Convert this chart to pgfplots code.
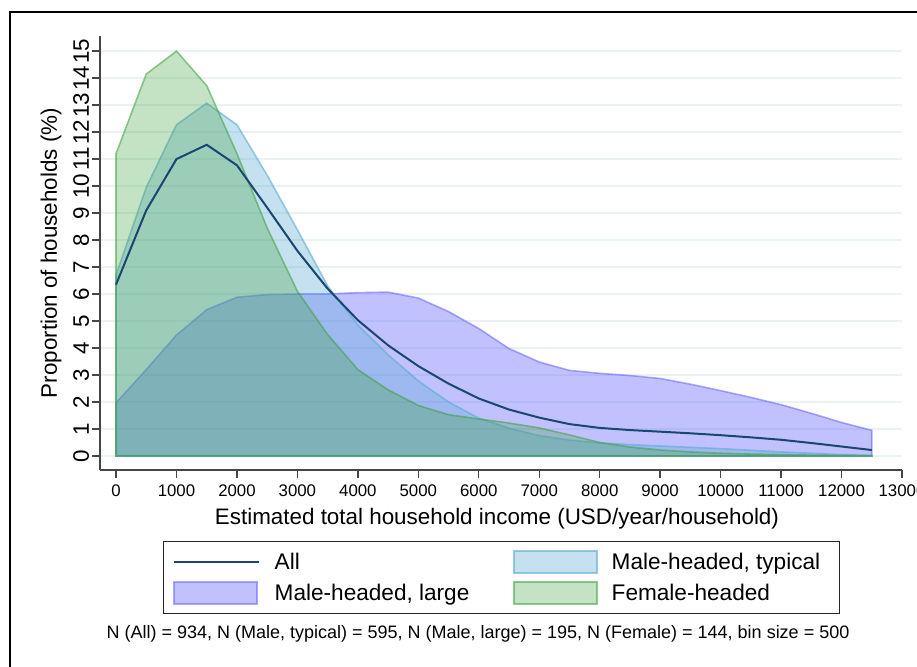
\documentclass[border=0pt]{standalone}
\usepackage{fontspec}
\setmainfont{Liberation Sans}
\usepackage{pgfplots}
\usepackage{pgfplotstable}
\pgfplotsset{compat=1.18}

\definecolor{allc}{RGB}{26,71,111}
\definecolor{femc}{RGB}{60,160,60}
\definecolor{typc}{RGB}{90,170,210}
\definecolor{largec}{RGB}{100,100,255}
\definecolor{gridc}{RGB}{234,242,243}
\definecolor{axc}{RGB}{70,70,70}

\pgfplotstableread{
x y
0 6.35
500 9.1
1000 11.0
1500 11.53
2000 10.77
2500 9.2
3000 7.6
3500 6.2
4000 5.03
4500 4.1
5000 3.33
5500 2.68
6000 2.13
6500 1.72
7000 1.42
7500 1.18
8000 1.04
8500 0.96
9000 0.9
9500 0.84
10000 0.77
10500 0.69
11000 0.6
11500 0.48
12000 0.35
12500 0.22
}\alltab

\pgfplotstableread{
x y
0 0
0 6.7
500 9.95
1000 12.27
1500 13.07
2000 12.27
2500 10.4
3000 8.38
3500 6.3
4000 4.85
4500 3.75
5000 2.78
5500 2.0
6000 1.4
6500 1.03
7000 0.75
7500 0.59
8000 0.48
8500 0.42
9000 0.37
9500 0.32
10000 0.27
10500 0.21
11000 0.15
11500 0.1
12000 0.05
12500 0.02
12500 0
}\typtab

\pgfplotstableread{
x y
0 0
0 1.97
500 3.2
1000 4.48
1500 5.42
2000 5.88
2500 5.98
3000 6.0
3500 6.0
4000 6.05
4500 6.07
5000 5.85
5500 5.35
6000 4.72
6500 3.98
7000 3.48
7500 3.17
8000 3.06
8500 2.98
9000 2.87
9500 2.66
10000 2.42
10500 2.17
11000 1.9
11500 1.58
12000 1.24
12500 0.95
12500 0
}\largetab

\pgfplotstableread{
x y
0 0
0 11.2
500 14.15
1000 15.0
1500 13.72
2000 11.2
2500 8.45
3000 6.1
3500 4.5
4000 3.2
4500 2.45
5000 1.87
5500 1.53
6000 1.37
6500 1.22
7000 1.04
7500 0.78
8000 0.5
8500 0.33
9000 0.22
9500 0.15
10000 0.1
10500 0.07
11000 0.05
11500 0.03
12000 0.02
12500 0.01
12500 0
}\femtab

\pgfplotsset{
  areaimg/.style={legend image code/.code={\draw[##1, line width=1pt] (0pt,-5.5pt) rectangle (41.5pt,5.5pt);}},
  lineimg/.style={legend image code/.code={\draw[##1] (0pt,0pt) -- (42.5pt,0pt);}},
}
\newcommand{\legtext}[3]{\hspace*{#1}\makebox[#2][l]{\rule[-2.5pt]{0pt}{11pt}#3}}

\begin{document}
\begin{tikzpicture}[x=1pt,y=1pt]
\useasboundingbox (0,0) rectangle (458.5,333);
\draw[line width=1.4pt, black] (5,-10) -- (5,327) -- (470,327);
\begin{axis}[
  at={(50pt,98pt)}, anchor=south west, scale only axis,
  width=401pt, height=217pt,
  xmin=-265, xmax=13000, ymin=-0.52, ymax=15.56,
  axis x line*=bottom, axis y line*=left,
  axis line style={draw=axc, line width=0.8pt},
  xtick={0,1000,...,13000}, ytick={0,1,...,15},
  minor tick num=0,
  tick align=outside, major tick length=4pt,
  tick style={draw=axc, line width=0.7pt},
  ymajorgrids, grid style={draw=gridc, line width=0.9pt},
  scaled x ticks=false, scaled y ticks=false,
  /pgf/number format/1000 sep={},
  /pgf/number format/assume math mode=true,
  xticklabel style={font=\fontsize{8.4}{9}\selectfont, text=black},
  yticklabel style={font=\fontsize{11.2}{12}\selectfont, rotate=90, anchor=south, inner sep=1.3pt, text=black},
  xlabel={Estimated total household income (USD/year/household)},
  ylabel={Proportion of households (\%)},
  label style={font=\fontsize{11.2}{13}\selectfont},
  xlabel style={at={([yshift=-24.5pt]axis description cs:0.495,0)}, anchor=center},
  ylabel style={at={([xshift=-24.5pt]axis description cs:0,0.5)}, anchor=center},
  legend columns=2,
  legend cell align=left,
  legend style={
    at={([xshift=31.5pt,yshift=-35.5pt]axis description cs:0,0)}, anchor=north west,
    draw=black!85, line width=0.7pt, fill=white,
    inner xsep=4.5pt, inner ysep=4.2pt,
    row sep=3.5pt, column sep=0pt,
    nodes={inner sep=0pt, font=\fontsize{11.3}{13}\selectfont},
  },
]
\addplot[forget plot, fill=largec, fill opacity=0.4, draw=largec, draw opacity=0.55, line width=0.8pt] table {\largetab} -- cycle;
\addplot[forget plot, fill=typc, fill opacity=0.35, draw=typc, draw opacity=0.6, line width=0.8pt] table {\typtab} -- cycle;
\addplot[forget plot, fill=femc, fill opacity=0.3, draw=femc, draw opacity=0.55, line width=0.8pt] table {\femtab} -- cycle;
\addplot[forget plot, draw=allc, line width=1pt] table {\alltab};

\addlegendimage{lineimg, draw=allc, line width=1pt}
\addlegendentry{\legtext{7.5pt}{119pt}{All}}
\addlegendimage{areaimg, fill=typc, fill opacity=0.35, draw=typc, draw opacity=0.6}
\addlegendentry{\legtext{7pt}{109.5pt}{Male-headed, typical}}
\addlegendimage{areaimg, fill=largec, fill opacity=0.4, draw=largec, draw opacity=0.55}
\addlegendentry{\legtext{7.5pt}{119pt}{Male-headed, large}}
\addlegendimage{areaimg, fill=femc, fill opacity=0.3, draw=femc, draw opacity=0.55}
\addlegendentry{\legtext{7pt}{109.5pt}{Female-headed}}
\end{axis}
\node[font=\fontsize{9}{11}\selectfont] at (239,16) {N (All) = 934, N (Male, typical) = 595, N (Male, large) = 195, N (Female) = 144, bin size = 500};
\end{tikzpicture}
\end{document}
